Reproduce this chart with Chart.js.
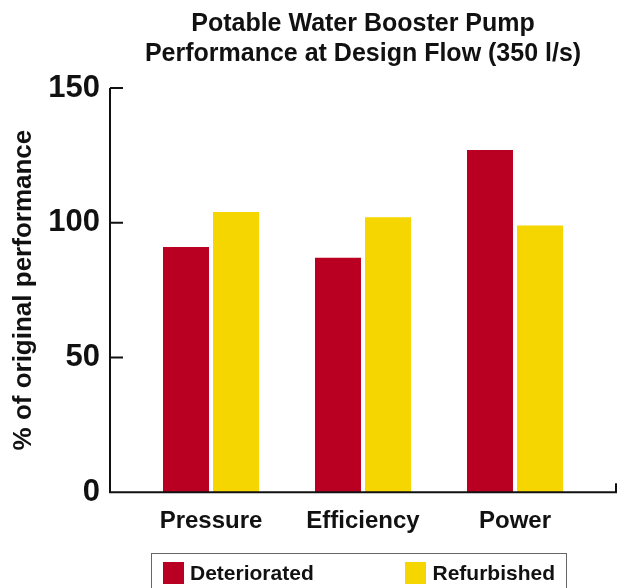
<!DOCTYPE html>
<html>
<head>
<meta charset="utf-8">
<script src="https://cdn.jsdelivr.net/npm/chart.js@4/dist/chart.umd.min.js"></script>
<style>
  body { margin: 0; background: #fff; }
  #wrap { position: relative; width: 630px; height: 588px; overflow: hidden; }
  #chart { position: absolute; left: 0; top: 0; }
  #legend {
    position: absolute; left: 151px; top: 553px; width: 416px; height: 50px;
    border: 1.5px solid #666; box-sizing: border-box;
    display: flex; justify-content: space-between; padding: 8px 11px 0 11px;
    font: bold 21px "Liberation Sans", Arial, sans-serif; color: #111;
  }
  #legend .item { display: flex; align-items: center; height: 22px; }
  #legend .box { width: 21px; height: 22px; margin-right: 6px; }
</style>
</head>
<body>
<div id="wrap">
  <canvas id="chart" width="630" height="588"></canvas>
  <div id="legend"></div>
</div>
<script>
const categories = ["Pressure", "Efficiency", "Power"];
const deteriorated = [91, 87, 127];
const refurbished = [104, 102, 99];
const yTicks = [0, 50, 100, 150];

const red = "#ba0022";
const yellow = "#f5d600";
const font = "'Liberation Sans', Arial, sans-serif";

// axis lines sit 25px outside the plot area, like the original
const axisLines = {
  id: "axisLines",
  afterDatasetsDraw(chart) {
    const ctx = chart.ctx;
    const area = chart.chartArea;
    const y = chart.scales.y;
    const left = area.left - 25;
    const right = area.right + 25;
    const base = y.getPixelForValue(0);
    ctx.save();
    ctx.strokeStyle = "#111";
    ctx.lineWidth = 2;
    ctx.beginPath();
    ctx.moveTo(left, y.getPixelForValue(150));
    ctx.lineTo(left, base);
    ctx.lineTo(right, base);
    ctx.lineTo(right, base - 9);
    yTicks.forEach(function (t) {
      const py = y.getPixelForValue(t);
      ctx.moveTo(left, py);
      ctx.lineTo(left + 13, py);
    });
    ctx.stroke();
    ctx.restore();
  },
};

const chart = new Chart(document.getElementById("chart"), {
  type: "bar",
  data: {
    labels: categories,
    datasets: [
      { label: "Deteriorated", data: deteriorated, backgroundColor: red },
      { label: "Refurbished", data: refurbished, backgroundColor: yellow },
    ],
  },
  options: {
    responsive: false,
    animation: false,
    layout: { padding: { top: 0, left: 0, right: 39, bottom: 37 } },
    datasets: { bar: { categoryPercentage: 0.658, barPercentage: 0.92 } },
    plugins: {
      legend: { display: false },
      tooltip: { enabled: false },
      title: {
        display: true,
        fullSize: false,
        text: ["Potable Water Booster Pump", "Performance at Design Flow (350 l/s)"],
        color: "#111",
        font: { family: font, size: 25, weight: "bold", lineHeight: 1.2 },
        padding: { top: 9, bottom: 19 },
      },
    },
    scales: {
      x: {
        grid: { display: false, drawTicks: false },
        border: { display: false },
        ticks: { color: "#111", padding: 15, font: { family: font, size: 24, weight: "bold" } },
      },
      y: {
        min: 0,
        max: 150,
        afterFit(scale) { scale.width = 135; },
        grid: { display: false, drawTicks: false },
        border: { display: false },
        ticks: { stepSize: 50, color: "#111", padding: 35, font: { family: font, size: 31, weight: "bold" } },
        title: {
          display: true,
          text: "% of original performance",
          color: "#111",
          padding: { top: 8, bottom: 0 },
          font: { family: font, size: 26, weight: "bold" },
        },
      },
    },
  },
  plugins: [axisLines],
});

// legend box under the chart, built from the datasets
const legend = document.getElementById("legend");
chart.data.datasets.forEach(function (ds) {
  const item = document.createElement("div");
  item.className = "item";
  item.innerHTML = '<span class="box" style="background:' + ds.backgroundColor + '"></span>' + ds.label;
  legend.appendChild(item);
});
</script>
</body>
</html>
